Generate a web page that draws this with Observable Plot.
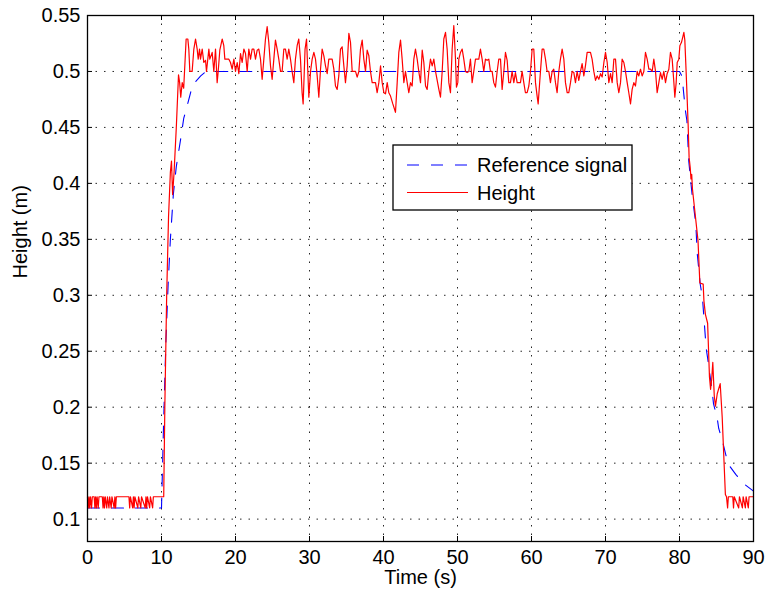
<!DOCTYPE html>
<html>
<head>
<meta charset="utf-8">
<script src="https://cdn.jsdelivr.net/npm/d3@7"></script>
<script src="https://cdn.jsdelivr.net/npm/@observablehq/plot@0.6"></script>
<style>
  html, body { margin: 0; padding: 0; background: #fff; }
  #wrap { position: relative; width: 771px; height: 597px; font-family: "Liberation Sans", Arial, Helvetica, sans-serif; }
  #legend { position: absolute; left: 0; top: 0; }
</style>
</head>
<body>
<div id="wrap"></div>
<script>
// ---- data ----
const xTicks = [0, 10, 20, 30, 40, 50, 60, 70, 80, 90];
const yTicks = [0.1, 0.15, 0.2, 0.25, 0.3, 0.35, 0.4, 0.45, 0.5, 0.55];
const xLabel = "Time (s)";
const yLabel = "Height (m)";
const seriesNames = ["Reference signal", "Height"];

const refTime = [0, 10, 10.3, 10.6, 10.9, 11.2, 11.6, 12.0, 12.6, 13.0, 13.5, 14.2, 15.3, 16.0,
  80.0, 80.4, 80.5, 80.8, 81.0, 81.25, 81.7, 82.2, 82.4, 82.8, 83.1, 83.2, 83.6, 83.8, 84.4, 84.6,
  85.1, 85.3, 85.8, 86.2, 86.6, 87.6, 88.6, 89.6, 90];
const refHeight = [0.11, 0.11, 0.19, 0.26, 0.31, 0.35, 0.39, 0.415, 0.44, 0.458, 0.47, 0.488, 0.496, 0.5,
  0.5, 0.495, 0.485, 0.465, 0.456, 0.42, 0.39, 0.364, 0.337, 0.31, 0.298, 0.289, 0.253, 0.244, 0.215, 0.203,
  0.19, 0.181, 0.17, 0.159, 0.149, 0.14, 0.132, 0.127, 0.125];

const heightTime = [
  0, 0.1, 0.2, 0.3, 0.4, 0.55, 0.65, 0.9, 1.0, 1.1, 1.2, 1.3, 1.45, 1.55, 2.0, 2.1, 2.2, 2.3, 2.4, 2.6,
  2.7, 2.9, 3.0, 3.2, 3.3, 3.6, 3.7, 3.8, 3.9, 5.6, 5.7, 5.8, 6.1, 6.2, 6.3, 6.4, 6.8, 6.9, 7.2, 7.3,
  7.8, 7.9, 8.0, 8.1, 8.4, 8.5, 8.8, 8.9, 10.3,
  10.45, 10.7, 10.95, 11.2, 11.35, 11.5, 11.7, 11.85, 12.0, 12.3, 12.45, 12.6, 12.8, 13.0, 13.33, 13.56,
  13.69, 13.83, 14.14, 14.37, 14.6, 14.82, 14.96, 15.14, 15.27, 15.5, 15.72, 15.95, 16.08, 16.4, 16.53,
  16.85, 17.07, 17.3, 17.52, 17.66, 17.88, 18.2, 18.42, 18.56, 18.87, 19.1, 19.32, 19.55, 19.78, 20.0,
  20.23, 20.45, 20.68, 20.9, 21.13, 21.35, 21.58, 21.8, 22.03, 22.25, 22.48, 22.7, 22.93, 23.15, 23.38,
  23.6, 23.83, 24.05, 24.28, 24.5, 24.73, 24.95, 25.18, 25.4, 25.63, 25.85, 26.08, 26.3, 26.53, 26.75,
  26.98, 27.2, 27.43, 27.65, 27.88, 28.1, 28.33, 28.55, 28.78, 29.0, 29.14, 29.4, 29.6, 29.91,
  30.14, 30.36, 30.59, 30.81, 31.04, 31.26, 31.49, 31.71, 31.94, 32.16, 32.39, 32.61, 33.06, 33.29, 33.51,
  33.74, 33.96, 34.19, 34.41, 34.64, 34.86, 35.09, 35.32, 35.54, 35.77, 36.22, 36.44, 36.67, 36.89, 37.12,
  37.34, 37.57, 37.79, 38.02, 38.24, 38.47, 38.92, 39.14, 39.37, 39.6, 39.82, 40.05, 40.27, 40.5, 40.72,
  40.95, 41.26, 41.62, 41.85, 42.07, 42.3, 42.52, 42.75, 42.97, 43.2, 43.42, 43.65, 43.87, 44.1, 44.32,
  44.55, 44.77, 45.0, 45.23, 45.45, 45.68, 45.9, 46.13, 46.35, 46.58, 46.8, 47.03, 47.48, 47.7, 47.93,
  48.15, 48.38, 48.6, 48.83, 49.05, 49.28, 49.5, 49.73, 49.86, 50.04, 50.18, 50.4, 50.63, 50.85, 51.08,
  51.3, 51.53, 51.75, 51.98, 52.2, 52.43, 52.88, 53.1, 53.33, 53.55, 53.78, 54.0, 54.23, 54.45, 54.68,
  54.9, 55.13, 55.36, 55.58, 55.81, 56.03, 56.26, 56.48, 56.71, 56.93, 57.16, 57.38, 57.61, 57.83, 58.06,
  58.51, 58.73, 58.96, 59.18, 59.41, 59.64, 59.86, 60.09, 60.31, 60.54, 60.76, 60.9, 61.21, 61.44, 61.66,
  61.89, 62.11, 62.34, 62.56, 62.79, 63.01, 63.24, 63.46, 63.69, 63.91, 64.14, 64.37, 64.59, 64.82, 65.04,
  65.27, 65.49, 65.72, 65.94, 66.17, 66.39, 66.62, 66.84, 67.07, 67.29, 67.52, 67.74, 67.97, 68.19, 68.42,
  68.65, 68.87, 69.1, 69.33, 69.55, 69.78, 70.0, 70.23, 70.45, 70.68, 70.9, 71.13, 71.35, 71.58, 71.8,
  72.03, 72.25, 72.48, 72.7, 72.93, 73.15, 73.38, 73.6, 73.83, 74.05, 74.28, 74.5, 74.73, 74.95, 75.18,
  75.4, 75.63, 75.86, 76.08, 76.31, 76.53, 76.76, 76.98, 77.21, 77.43, 77.66, 77.88, 78.11, 78.33, 78.56,
  78.78, 79.01, 79.24, 79.37, 79.55, 79.69, 79.91, 80.05, 80.27, 80.45, 80.59, 80.72, 80.9, 81.04, 81.17,
  81.3, 81.45, 81.55, 81.65, 81.75, 82.5, 82.75, 83.2, 83.3, 83.5, 83.8, 84.05, 84.2, 84.35, 84.5,
  84.7, 84.86, 85.1, 85.5, 85.77, 86.2, 86.35, 86.5, 86.6, 87.2, 87.3, 87.4, 88.0, 88.1, 88.5,
  88.6, 88.9, 89.0, 89.3, 89.4, 90];
const heightValue = [
  0.12, 0.11, 0.12, 0.11, 0.12, 0.11, 0.12, 0.12, 0.11, 0.12, 0.11, 0.12, 0.11, 0.12, 0.12, 0.11, 0.12, 0.11, 0.12, 0.11,
  0.12, 0.11, 0.12, 0.11, 0.12, 0.11, 0.12, 0.11, 0.12, 0.12, 0.11, 0.12, 0.11, 0.12, 0.11, 0.12, 0.11, 0.12, 0.11, 0.12,
  0.11, 0.12, 0.11, 0.12, 0.11, 0.12, 0.11, 0.12, 0.12,
  0.2, 0.3, 0.37, 0.41, 0.42, 0.39, 0.41, 0.43, 0.45, 0.497, 0.49, 0.477, 0.49, 0.485, 0.529, 0.529,
  0.52, 0.5, 0.5, 0.52, 0.529, 0.52, 0.511, 0.52, 0.511, 0.52, 0.508, 0.51, 0.5, 0.52, 0.511,
  0.517, 0.5, 0.52, 0.49, 0.5, 0.519, 0.529, 0.523, 0.511, 0.511, 0.511, 0.508, 0.502, 0.511, 0.5,
  0.508, 0.498, 0.516, 0.508, 0.52, 0.516, 0.5, 0.52, 0.511, 0.52, 0.52, 0.511, 0.519, 0.52, 0.511,
  0.493, 0.511, 0.529, 0.54, 0.526, 0.505, 0.493, 0.511, 0.528, 0.52, 0.511, 0.5, 0.5, 0.52, 0.52,
  0.511, 0.52, 0.511, 0.5, 0.49, 0.511, 0.523, 0.529, 0.511, 0.481, 0.471, 0.52, 0.529, 0.477,
  0.5, 0.511, 0.517, 0.511, 0.496, 0.477, 0.502, 0.52, 0.514, 0.505, 0.498, 0.511, 0.511, 0.502, 0.487,
  0.484, 0.496, 0.52, 0.522, 0.505, 0.49, 0.505, 0.534, 0.526, 0.5, 0.5, 0.495, 0.5, 0.52, 0.528,
  0.511, 0.5, 0.519, 0.514, 0.5, 0.49, 0.49, 0.481, 0.49, 0.505, 0.49, 0.481, 0.48, 0.49, 0.481,
  0.478, 0.471, 0.4635, 0.49, 0.517, 0.528, 0.511, 0.49, 0.5, 0.49, 0.481, 0.49, 0.487, 0.511, 0.52,
  0.511, 0.5, 0.49, 0.519, 0.508, 0.487, 0.484, 0.5, 0.511, 0.505, 0.511, 0.5, 0.484, 0.477, 0.5,
  0.529, 0.535, 0.52, 0.49, 0.481, 0.52, 0.541, 0.511, 0.486, 0.49, 0.511, 0.517, 0.52, 0.511, 0.5,
  0.499, 0.5, 0.511, 0.49, 0.5, 0.511, 0.511, 0.52, 0.511, 0.5, 0.511, 0.51, 0.511, 0.5, 0.5,
  0.49, 0.486, 0.5, 0.511, 0.511, 0.484, 0.5, 0.517, 0.51, 0.49, 0.49, 0.5, 0.49, 0.499, 0.49,
  0.49, 0.5, 0.49, 0.481, 0.481, 0.487, 0.5, 0.52, 0.52, 0.49, 0.478, 0.471, 0.5, 0.52, 0.52,
  0.511, 0.5, 0.5, 0.49, 0.5, 0.502, 0.49, 0.481, 0.5, 0.511, 0.52, 0.511, 0.49, 0.481, 0.481,
  0.49, 0.5, 0.499, 0.49, 0.5, 0.492, 0.5, 0.507, 0.496, 0.505, 0.517, 0.517, 0.517, 0.511, 0.5,
  0.492, 0.496, 0.493, 0.498, 0.495, 0.508, 0.517, 0.508, 0.49, 0.498, 0.49, 0.511, 0.511, 0.49, 0.481,
  0.49, 0.511, 0.508, 0.5, 0.49, 0.481, 0.471, 0.484, 0.49, 0.487, 0.5, 0.496, 0.502, 0.496, 0.5,
  0.517, 0.511, 0.502, 0.502, 0.5, 0.511, 0.5, 0.481, 0.49, 0.499, 0.493, 0.5, 0.49, 0.498, 0.502,
  0.517, 0.511, 0.49, 0.477, 0.49, 0.508, 0.511, 0.523, 0.526, 0.531, 0.535, 0.528, 0.499, 0.475, 0.452,
  0.423, 0.414, 0.404, 0.408, 0.395, 0.349, 0.311, 0.31, 0.295, 0.283, 0.275, 0.227, 0.216, 0.225, 0.24,
  0.21, 0.201, 0.212, 0.221, 0.191, 0.122, 0.12, 0.11, 0.12, 0.12, 0.11, 0.12, 0.11, 0.12, 0.11,
  0.12, 0.11, 0.12, 0.11, 0.12, 0.12];

// ---- tables built from the arrays ----
const refData = refTime.map((t, i) => ({t, h: refHeight[i]}));
const heightData = heightTime.map((t, i) => ({t, h: heightValue[i]}));

const W = 771, H = 597;
const mL = 87, mR = 18, mT = 15, mB = 56;
const innerW = W - mL - mR, innerH = H - mT - mB;
const tickLen = 5;
const font = "Liberation Sans, Arial, Helvetica, sans-serif";
const gridStyle = {stroke: "#000", strokeOpacity: 0.85, strokeWidth: 1, strokeDasharray: "1.5,7"};

const chart = Plot.plot({
  width: W, height: H,
  marginLeft: mL, marginRight: mR, marginTop: mT, marginBottom: mB,
  style: {fontFamily: font, fontSize: "20px", background: "#fff", color: "#000"},
  x: {domain: [0, 90]},
  y: {domain: [0.08, 0.55]},
  marks: [
    Plot.gridX(xTicks, gridStyle),
    Plot.gridY(yTicks, gridStyle),
    Plot.line(refData, {x: "t", y: "h", stroke: "#0000ff", strokeWidth: 1.1, strokeDasharray: "12,12"}),
    Plot.line(heightData, {x: "t", y: "h", stroke: "#ff0000", strokeWidth: 1.2}),
    // inward tick marks on all four sides
    Plot.ruleX(xTicks, {stroke: "#000", strokeWidth: 1, insetTop: innerH - tickLen}),
    Plot.ruleX(xTicks, {stroke: "#000", strokeWidth: 1, insetBottom: innerH - tickLen}),
    Plot.ruleY(yTicks, {stroke: "#000", strokeWidth: 1, insetRight: innerW - tickLen}),
    Plot.ruleY(yTicks, {stroke: "#000", strokeWidth: 1, insetLeft: innerW - tickLen}),
    Plot.frame({stroke: "#000", strokeWidth: 1.3}),
    Plot.axisX({ticks: xTicks, tickFormat: d => String(d), anchor: "bottom", tickSize: 0, tickPadding: 8, label: null, fontSize: 20}),
    Plot.axisY({ticks: yTicks, tickFormat: d => String(d), anchor: "left", tickSize: 0, tickPadding: 7, label: null, fontSize: 20}),
    Plot.text([xLabel], {frameAnchor: "bottom", dy: 42, text: d => d, fontSize: 20, fill: "#000"}),
    Plot.text([yLabel], {frameAnchor: "left", dx: -67, rotate: -90, text: d => d, fontSize: 20, fill: "#000"})
  ]
});

const wrap = document.getElementById("wrap");
wrap.appendChild(chart);

// ---- legend (inside plot area) ----
const ns = "http://www.w3.org/2000/svg";
const leg = document.createElementNS(ns, "svg");
leg.setAttribute("id", "legend");
leg.setAttribute("width", W);
leg.setAttribute("height", H);
leg.style.pointerEvents = "none";
const box = {x: 393, y: 145, w: 239, h: 65};
const rect = document.createElementNS(ns, "rect");
rect.setAttribute("x", box.x); rect.setAttribute("y", box.y);
rect.setAttribute("width", box.w); rect.setAttribute("height", box.h);
rect.setAttribute("fill", "#fff"); rect.setAttribute("stroke", "#000"); rect.setAttribute("stroke-width", "1.3");
leg.appendChild(rect);
const legItems = [
  {name: seriesNames[0], color: "#0000ff", dash: "12,12"},
  {name: seriesNames[1], color: "#ff0000", dash: null}
];
legItems.forEach((it, i) => {
  const cy = box.y + 20 + i * 27.5;
  const ln = document.createElementNS(ns, "line");
  ln.setAttribute("x1", box.x + 14); ln.setAttribute("x2", box.x + 75);
  ln.setAttribute("y1", cy); ln.setAttribute("y2", cy);
  ln.setAttribute("stroke", it.color); ln.setAttribute("stroke-width", "1.2");
  if (it.dash) ln.setAttribute("stroke-dasharray", it.dash);
  leg.appendChild(ln);
  const tx = document.createElementNS(ns, "text");
  tx.setAttribute("x", box.x + 84); tx.setAttribute("y", cy);
  tx.setAttribute("dy", "0.35em");
  tx.setAttribute("font-family", font); tx.setAttribute("font-size", "20");
  tx.setAttribute("fill", "#000");
  tx.textContent = it.name;
  leg.appendChild(tx);
});
wrap.appendChild(leg);
</script>
</body>
</html>
